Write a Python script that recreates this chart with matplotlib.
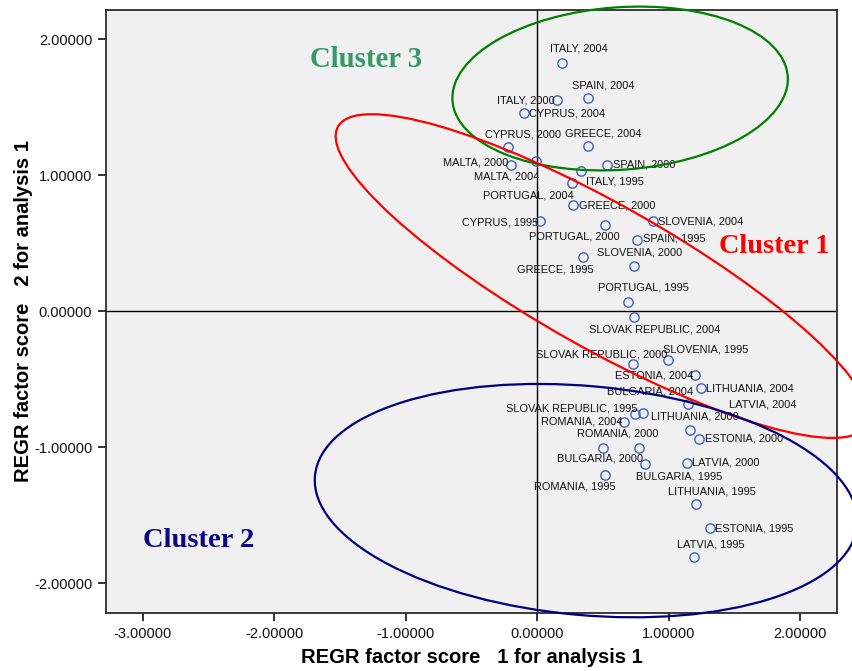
import matplotlib
matplotlib.use("Agg")
import matplotlib.pyplot as plt
from matplotlib.patches import Ellipse
from matplotlib.ticker import FormatStrFormatter

# ── Factor scores per country / year ─────────────────────────────────────────
labels = [
    "ITALY, 2004", "SPAIN, 2004", "ITALY, 2000", "CYPRUS, 2004", "CYPRUS, 2000",
    "GREECE, 2004", "MALTA, 2000", "MALTA, 2004", "SPAIN, 2000", "ITALY, 1995",
    "PORTUGAL, 2004", "GREECE, 2000", "CYPRUS, 1995", "PORTUGAL, 2000",
    "SLOVENIA, 2004", "SPAIN, 1995", "GREECE, 1995", "SLOVENIA, 2000",
    "PORTUGAL, 1995", "SLOVAK REPUBLIC, 2004", "SLOVENIA, 1995",
    "SLOVAK REPUBLIC, 2000", "ESTONIA, 2004", "LITHUANIA, 2004", "LATVIA, 2004",
    "SLOVAK REPUBLIC, 1995", "BULGARIA, 2004", "ROMANIA, 2004", "LITHUANIA, 2000",
    "ESTONIA, 2000", "ROMANIA, 2000", "BULGARIA, 2000", "BULGARIA, 1995",
    "LATVIA, 2000", "ROMANIA, 1995", "LITHUANIA, 1995", "ESTONIA, 1995",
    "LATVIA, 1995",
]
score1 = [
    0.191, 0.386, 0.148, -0.103, -0.222,
    0.384, -0.202, -0.009, 0.529, 0.335,
    0.262, 0.275, 0.019, 0.513,
    0.881, 0.759, 0.351, 0.734,
    0.688, 0.736, 0.997,
    0.726, 1.203, 1.246, 1.149,
    0.747, 0.802, 0.660, 1.165,
    1.231, 0.501, 0.777, 0.818,
    1.135, 0.512, 1.206, 1.310,
    1.195,
]
score2 = [
    1.829, 1.567, 1.554, 1.461, 1.208,
    1.213, 1.078, 1.103, 1.078, 1.034,
    0.941, 0.781, 0.662, 0.634,
    0.664, 0.526, 0.397, 0.333,
    0.070, -0.045, -0.359,
    -0.391, -0.467, -0.567, -0.685,
    -0.756, -0.747, -0.818, -0.876,
    -0.938, -1.004, -1.004, -1.124,
    -1.117, -1.205, -1.419, -1.595,
    -1.809,
]

# where each point label sits relative to its marker (pixels, +y is up)
label_offsets = [
    (16, 14), (15, 13), (-31, 0), (43, -1), (15, 13),
    (15, 13), (-35, 2), (-29, -15), (37, 0), (34, -11),
    (-43, -12), (44, 0), (-40, -1), (-30, -11),
    (48, 0), (37, 1), (-28, -12), (6, 14),
    (16, 14), (21, -12), (37, 11),
    (-31, 10), (-41, -1), (49, 0), (74, 0),
    (-64, 6), (7, 21), (-42, 1), (4, 14),
    (45, 0), (15, 14), (-39, -11), (34, -12),
    (39, 1), (-30, -11), (16, 13), (45, 0),
    (16, 13),
]

xticks = [-3, -2, -1, 0, 1, 2]
yticks = [-2, -1, 0, 1, 2]

# ── Figure ───────────────────────────────────────────────────────────────────
plt.rcParams["font.family"] = ["Liberation Sans", "DejaVu Sans"]

fig = plt.figure(figsize=(8.53, 6.71), dpi=100, facecolor="white")
ax = fig.add_axes([0.1243, 0.0864, 0.857, 0.8994])
ax.set_facecolor("#F0F0F0")
ax.set_xlim(-3.28, 2.28)
ax.set_ylim(-2.22, 2.22)

for sp in ax.spines.values():
    sp.set_color("#2b2b2b")
    sp.set_linewidth(1.3)

ax.axhline(0, color="black", linewidth=1.0, zorder=1)
ax.axvline(0, color="black", linewidth=1.0, zorder=1)

ax.plot(score1, score2, linestyle="none", marker="o", markersize=6.7,
        markerfacecolor="none", markeredgecolor="#4060C0",
        markeredgewidth=1.0, zorder=3)

for lab, x, y, (dx, dy) in zip(labels, score1, score2, label_offsets):
    ax.annotate(lab, (x, y), xytext=(dx, dy), textcoords="offset pixels",
                ha="center", va="center", fontsize=7.9, color="#111111",
                zorder=4)

# cluster outlines, allowed to spill past the frame
clusters = [
    ((0.630, 1.639), 2.556, 1.195, 4.0, "#008000"),
    ((0.493, 0.259), 4.58, 1.06, -28.6, "#FF0000"),
    ((0.371, -1.393), 4.14, 1.685, -5.0, "#000080"),
]
for center, w, h, ang, col in clusters:
    ax.add_patch(Ellipse(center, w, h, angle=ang, fill=False, edgecolor=col,
                         linewidth=1.6, clip_on=False, zorder=5))

serif = ["Liberation Serif", "DejaVu Serif"]
ax.text(-1.302, 1.799, "Cluster 3", color="#36996A", fontsize=20.7,
        fontweight="bold", family=serif, ha="center", va="baseline")
ax.text(1.803, 0.426, "Cluster 1", color="#FF0000", fontsize=20.3,
        fontweight="bold", family=serif, ha="center", va="baseline")
ax.text(-2.578, -1.733, "Cluster 2", color="#0A0A80", fontsize=20.5,
        fontweight="bold", family=serif, ha="center", va="baseline")

ax.set_xticks(xticks)
ax.set_yticks(yticks)
ax.xaxis.set_major_formatter(FormatStrFormatter("%.5f"))
ax.yaxis.set_major_formatter(FormatStrFormatter("%.5f"))
ax.tick_params(direction="out", length=6, width=1.2, labelsize=10.5,
               colors="#111111", pad=4)

ax.set_xlabel("REGR factor score   1 for analysis 1", fontsize=14.5,
              fontweight="bold", labelpad=5)
ax.set_ylabel("REGR factor score   2 for analysis 1", fontsize=14.5,
              fontweight="bold", labelpad=1)

fig.savefig("out.png", dpi=100, facecolor="white")
